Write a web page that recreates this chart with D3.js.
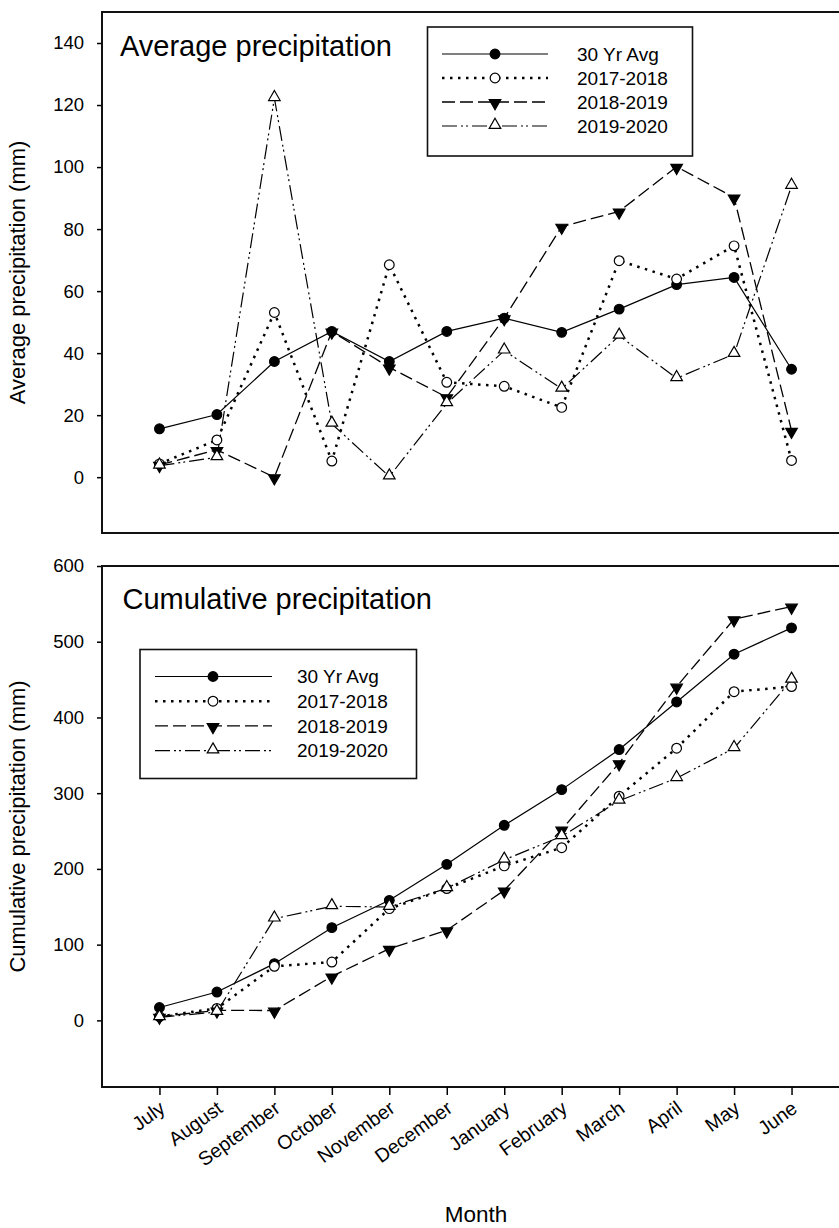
<!DOCTYPE html>
<html>
<head>
<meta charset="utf-8">
<script src="https://cdn.jsdelivr.net/npm/d3@7"></script>
<style>
  html, body { margin: 0; padding: 0; background: #fff; }
  svg { display: block; }
  text { font-family: "Liberation Sans", Arial, sans-serif; fill: #000; }
</style>
</head>
<body>
<svg id="chart" width="839" height="1228"></svg>
<script>
// ---------------- data ----------------
const months = ["July","August","September","October","November","December",
                "January","February","March","April","May","June"];
const seriesNames = ["30 Yr Avg","2017-2018","2018-2019","2019-2020"];

// Average (monthly) precipitation, mm
const avg30yr  = [15.6, 20.2, 37.3, 47.0, 37.3, 47.0, 51.3, 46.7, 54.2, 62.1, 64.4, 34.8];
const avg1718  = [4.3, 12.0, 53.1, 5.2, 68.5, 30.6, 29.3, 22.5, 69.8, 63.9, 74.6, 5.4];
const avg1819  = [4.0, 8.8, 0.0, 47.0, 35.4, 25.8, 51.3, 80.8, 85.7, 100.1, 90.2, 15.0];
const avg1920  = [3.7, 6.4, 122.2, 17.2, 0.2, 23.8, 40.8, 28.5, 45.6, 31.9, 39.7, 93.9];

// Cumulative precipitation, mm
const cum30yr  = [17, 37.4, 74.9, 122.4, 158.5, 206, 257.6, 304.7, 357.6, 420.5, 483.5, 518.3];
const cum1718  = [5, 15.8, 71.3, 77, 147.5, 174, 204, 228, 296, 359.4, 434, 440.8];
const cum1819  = [5, 13.2, 13, 58, 94.7, 119, 171.7, 252, 339.6, 440.8, 529.8, 546.5];
const cum1920  = [4, 11, 134.3, 150.6, 149.7, 174.5, 212, 243, 290, 319.8, 359.4, 449.7];

const avgTicks = [0, 20, 40, 60, 80, 100, 120, 140];
const cumTicks = [0, 100, 200, 300, 400, 500, 600];

// ---------------- styles ----------------
const styles = [
  { dash: null,              width: 1.2, marker: "circle",  filled: true  },
  { dash: "2.5,5.5",         width: 2.5, marker: "circle",  filled: false },
  { dash: "13,5",            width: 1.3, marker: "tridown", filled: true  },
  { dash: "15,4,2,3,2,4",    width: 1.2, marker: "triup",   filled: false }
];

const svg = d3.select("#chart");
svg.append("rect").attr("width", 839).attr("height", 1228).attr("fill", "#fff");

const frameL = 102, frameR = 849;
const x = d3.scaleLinear().domain([-1, 12]).range([frameL, frameR]);

function markerPath(type) {
  if (type === "circle") return d3.symbol().type(d3.symbolCircle).size(74)();
  return d3.symbol().type(d3.symbolTriangle).size(58)();
}

function drawMarker(g, cx, cy, st) {
  const p = g.append("path")
    .attr("d", markerPath(st.marker))
    .attr("fill", st.filled ? "#000" : "#fff")
    .attr("stroke", "#000")
    .attr("stroke-width", 1.2);
  if (st.marker === "tridown") p.attr("transform", `translate(${cx},${cy + 1}) rotate(180)`);
  else if (st.marker === "triup") p.attr("transform", `translate(${cx},${cy - 1})`);
  else p.attr("transform", `translate(${cx},${cy})`);
}

function panel(cfg) {
  const y = d3.scaleLinear().domain(cfg.domain).range([cfg.bottom, cfg.top]);
  const g = svg.append("g");

  const clipId = "clip" + cfg.top;
  svg.append("clipPath").attr("id", clipId)
    .append("rect").attr("x", frameL).attr("y", cfg.top)
    .attr("width", frameR - frameL).attr("height", cfg.bottom - cfg.top);

  // y axis
  const yAxis = d3.axisLeft(y).tickValues(cfg.ticks).tickSize(5).tickPadding(13)
    .tickFormat(d3.format("d"));
  const ya = g.append("g").attr("transform", `translate(${frameL},0)`).call(yAxis);
  ya.select(".domain").remove();
  ya.selectAll(".tick line").attr("stroke", "#000").attr("stroke-width", 1.5);
  ya.selectAll(".tick text").attr("font-size", 18.5)
    .attr("font-family", "Liberation Sans, Arial, sans-serif").attr("fill", "#000");

  // frame (left, top, bottom)
  g.append("path")
    .attr("d", `M${frameR},${cfg.top} H${frameL} V${cfg.bottom} H${frameR}`)
    .attr("fill", "none").attr("stroke", "#111").attr("stroke-width", 2);

  // x axis ticks (bottom panel only)
  if (cfg.xaxis) {
    const xAxis = d3.axisBottom(x).tickValues(d3.range(months.length)).tickSize(8).tickFormat("");
    const xa = g.append("g").attr("transform", `translate(0,${cfg.bottom})`).call(xAxis);
    xa.select(".domain").remove();
    xa.selectAll(".tick line").attr("stroke", "#000").attr("stroke-width", 1.5);
    g.selectAll(".mlabel").data(months).join("text")
      .attr("class", "mlabel")
      .attr("transform", (d, i) => `translate(${x(i) + 7},${cfg.bottom + 24}) rotate(-36)`)
      .attr("text-anchor", "end")
      .attr("font-size", 19.5)
      .text(d => d);
    g.append("text").attr("x", 476).attr("y", 1222)
      .attr("text-anchor", "middle").attr("font-size", 22.5).text("Month");
  }

  // y title
  g.append("text")
    .attr("transform", `translate(25,${(cfg.top + cfg.bottom) / 2}) rotate(-90)`)
    .attr("text-anchor", "middle").attr("font-size", 22).text(cfg.ytitle);

  // panel title
  g.append("text").attr("x", cfg.titleX).attr("y", cfg.titleY)
    .attr("font-size", 29).text(cfg.title);

  // series
  const line = d3.line().x((d, i) => x(i)).y(d => y(d));
  const dg = g.append("g").attr("clip-path", `url(#${clipId})`);
  cfg.series.forEach((vals, s) => {
    const st = styles[s];
    const p = dg.append("path").datum(vals).attr("d", line)
      .attr("fill", "none").attr("stroke", "#000").attr("stroke-width", st.width);
    if (st.dash) p.attr("stroke-dasharray", st.dash);
  });
  cfg.series.forEach((vals, s) => {
    vals.forEach((v, i) => drawMarker(dg, x(i), y(v), styles[s]));
  });

  // legend
  const L = cfg.legend;
  g.append("rect").attr("x", L.x0).attr("y", L.y0).attr("width", L.x1 - L.x0).attr("height", L.y1 - L.y0)
    .attr("fill", "#fff").attr("stroke", "#111").attr("stroke-width", 1.6);
  seriesNames.forEach((name, s) => {
    const ry = L.row0 + s * L.step;
    const st = styles[s];
    const lp = g.append("line").attr("x1", L.lx0).attr("x2", L.lx1).attr("y1", ry).attr("y2", ry)
      .attr("stroke", "#000").attr("stroke-width", st.width);
    if (st.dash) lp.attr("stroke-dasharray", st.dash);
    drawMarker(g, L.mx, ry, st);
    g.append("text").attr("x", L.tx).attr("y", ry).attr("dy", "0.35em")
      .attr("font-size", 19).text(name);
  });
}

panel({
  top: 12, bottom: 533, domain: [-18, 150], ticks: avgTicks,
  ytitle: "Average precipitation (mm)",
  title: "Average precipitation", titleX: 120, titleY: 56,
  series: [avg30yr, avg1718, avg1819, avg1920],
  legend: { x0: 427.5, x1: 692.5, y0: 27, y1: 156, row0: 54, step: 24,
            lx0: 442, lx1: 548, mx: 495, tx: 577 },
  xaxis: false
});

panel({
  top: 566, bottom: 1087, domain: [-88, 600], ticks: cumTicks,
  ytitle: "Cumulative precipitation (mm)",
  title: "Cumulative precipitation", titleX: 122.5, titleY: 609,
  series: [cum30yr, cum1718, cum1819, cum1920],
  legend: { x0: 140, x1: 416.5, y0: 649.5, y1: 778.5, row0: 676.5, step: 24.7,
            lx0: 155, lx1: 272, mx: 213, tx: 297 },
  xaxis: true
});
</script>
</body>
</html>
